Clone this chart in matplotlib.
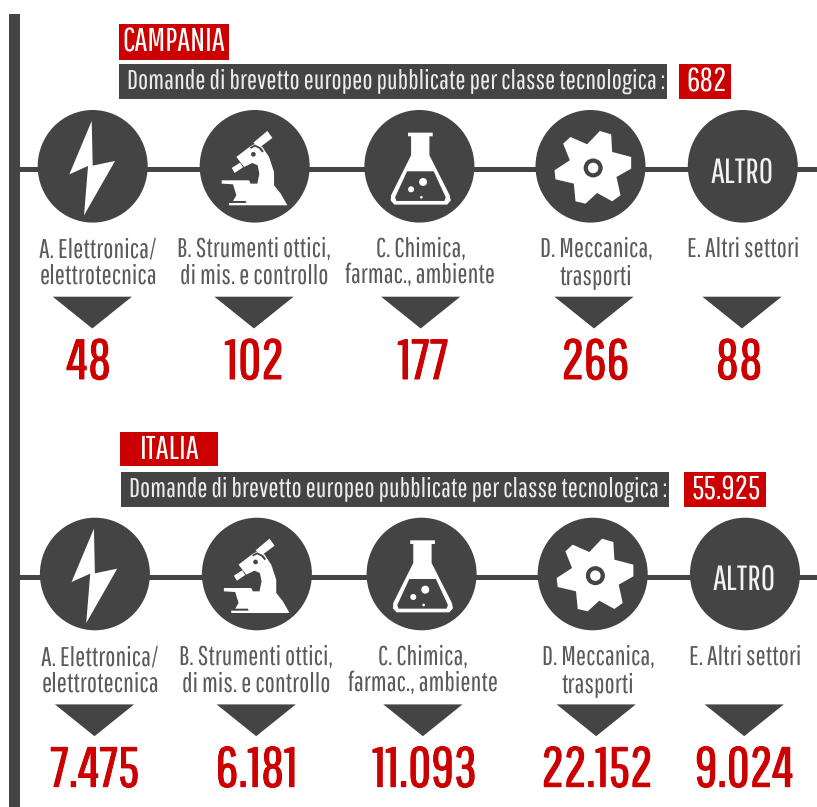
import matplotlib
matplotlib.use('Agg')
import matplotlib.pyplot as plt
from matplotlib.patches import Ellipse, Polygon, Rectangle
import matplotlib.patheffects as pe

plt.rcParams['text.hinting'] = 'no_hinting'
plt.rcParams['text.hinting_factor'] = 1

regions = ['CAMPANIA', 'ITALIA']
subtitle = 'Domande di brevetto europeo pubblicate per classe tecnologica :'
totals = [682, 55925]
categories = [['A. Elettronica/', 'elettrotecnica'],
              ['B. Strumenti ottici,', 'di mis. e controllo'],
              ['C. Chimica,', 'farmac., ambiente'],
              ['D. Meccanica,', 'trasporti'],
              ['E. Altri settori']]
campania_values = [48, 102, 177, 266, 88]
italia_values = [7475, 6181, 11093, 22152, 9024]

DARK = '#444444'
RED = '#cc0000'
FONT = 'Pathway Gothic One'

fig = plt.figure(figsize=(8.17, 8.07), dpi=100)
ax = fig.add_axes([0, 0, 1, 1])
ax.set_xlim(0, 817)
ax.set_ylim(807, 0)
ax.axis('off')


def fmt(v):
    return f'{v:,}'.replace(',', '.')


def rect(x0, x1, y0, y1, color, z=1):
    ax.add_patch(Rectangle((x0, y0), x1 - x0, y1 - y0, fc=color, ec='none', zorder=z))


def bolt(cx, cy):
    pts = [(275, 362), (208, 522), (264, 497), (252, 645), (345, 482), (278, 496)]
    ax.add_patch(Polygon([(cx + (x - 278) / 3, cy + (y - 498) / 3) for x, y in pts],
                         fc='white', ec='none', zorder=4))


def shape(pts, cx, cy, color='white', z=4):
    ax.add_patch(Polygon([(cx + (x - 147) / 3, cy + (y - 153) / 3) for x, y in pts],
                         fc=color, ec='none', zorder=z))


def dot(x, y, r, cx, cy, color='white', z=6):
    ax.add_patch(Ellipse((cx + (x - 147) / 3, cy + (y - 153) / 3), 2 * r / 3, 2 * r / 3,
                         fc=color, ec='none', zorder=z))


def microscope(cx, cy):
    shape([(92, 125), (135, 92), (150, 85), (170, 95), (190, 125), (205, 170), (205, 210),
           (225, 235), (245, 270), (70, 270), (70, 263), (122, 263), (120, 257), (82, 257),
           (92, 240), (82, 207), (48, 205), (48, 195), (130, 195), (135, 205), (155, 205),
           (161, 175), (156, 150), (140, 143), (115, 155)], cx, cy)
    shape([(143, 82), (185, 47), (200, 68), (160, 98)], cx, cy)
    shape([(78, 158), (103, 142), (112, 156), (87, 173)], cx, cy)
    shape([(132, 96), (148, 88), (166, 97), (174, 108), (170, 112), (160, 100), (148, 94), (136, 100)],
          cx, cy, DARK, 5)
    dot(143, 117, 7, cx, cy, DARK)


def flask(cx, cy):
    shape([(113, 52), (187, 52), (187, 63), (177, 63), (177, 120), (238, 240), (241, 256),
           (230, 268), (72, 268), (61, 256), (62, 240), (122, 120), (122, 63), (113, 63)], cx, cy)
    shape([(110, 168), (190, 168), (226, 246), (222, 257), (78, 257), (74, 246)], cx, cy, DARK, 5)
    dot(158, 200, 12, cx, cy)
    dot(122, 222, 9, cx, cy)
    dot(153, 246, 4, cx, cy)


def gear(cx, cy):
    pts = [(510, 410), (560, 432), (598, 392), (632, 402), (635, 455), (692, 470), (692, 505),
           (648, 530), (660, 585), (635, 603), (590, 578), (555, 610), (525, 603), (520, 550),
           (465, 537), (462, 510), (508, 480), (488, 430)]
    ax.add_patch(Polygon([(cx + (x - 570) / 3, cy + (y - 498) / 3) for x, y in pts],
                         fc='white', ec='none', zorder=4))
    ax.add_patch(Ellipse((cx + 8 / 3, cy + 5 / 3), 19, 19, fc=DARK, ec='none', zorder=5))
    ax.add_patch(Ellipse((cx + 8 / 3, cy + 5 / 3), 10.5, 10.5, fc='white', ec='none', zorder=6))


def label(x, y, s, size, color, ha='center', bold=False):
    t = ax.text(x, y, s, family=FONT, fontsize=size, color=color, ha=ha, va='baseline', zorder=7)
    if bold:
        t.set_path_effects([pe.withStroke(linewidth=bold, foreground=color)])
    return t


rect(9, 20, 14, 807, DARK)

SEC = [
    dict(dx=0, dy=0, title=(119, 228.7, 24, 60.3), title_x=174.3, title_y=51.7,
         bar=(119, 667.3, 64.3, 99.3), sub_x=127.5, sub_y=90,
         tot=(679.3, 731), tot_x=706.5, tot_y=91.5),
    dict(dx=2.2, dy=407.7, title=(120, 218, 432, 465.7), title_x=169.7, title_y=459.3,
         bar=(121, 669.3, 472, 507), sub_x=129.5, sub_y=497.7,
         tot=(683.7, 766), tot_x=726, tot_y=499.5),
]
cxs = [92.7, 254.7, 419.4, 590.5, 742.8]
tri_x = [92.3, 254, 420.7, 594, 742]
lab_x = [98, 254, 420.5, 596, 742.8]
num_x = [[88.8, 254.2, 423, 595.3, 739], [94.5, 256.5, 424.5, 596.7, 744]]

for k, (name, total, values, s) in enumerate(zip(regions, totals, [campania_values, italia_values], SEC)):
    dx, dy = s['dx'], s['dy']
    rect(*s['title'], RED)
    label(s['title_x'], s['title_y'], name, 24, 'white')
    rect(*s['bar'], DARK)
    label(s['sub_x'], s['sub_y'], subtitle, 19.2, '#ececec', ha='left')
    rect(s['tot'][0], s['tot'][1], s['bar'][2], s['bar'][3], RED)
    label(s['tot_x'], s['tot_y'], fmt(total), 23.5, 'white')

    rect(20, 817, 167 + dy, 172 + dy, DARK)
    for i, (cat, v) in enumerate(zip(categories, values)):
        cx = cxs[i] + dx
        cy = 166.3 + dy
        ax.add_patch(Ellipse((cx, cy), 110, 112.6, fc=DARK, ec='none', zorder=3))
        [bolt, microscope, flask, gear, lambda a, b: None][i](cx, cy)
        if i == 4:
            label(cx - 0.5, 182 + dy, 'ALTRO', 25, '#f2f2f2')
        base = 258 + dy
        for j, line in enumerate(cat):
            yy = base + j * (25 if i == 2 else 27)
            label(lab_x[i] + dx, yy, line, 19.2, '#5a5a5a')
        tx = tri_x[i] + dx
        ax.add_patch(Polygon([(tx - 39.6, 296.7 + dy), (tx + 39.6, 296.7 + dy), (tx, 328.5 + dy)],
                             fc=DARK, ec='none', zorder=3))
        label(num_x[k][i], 379 + dy, fmt(v), 40.5, RED, bold=0.7)

fig.savefig('out.png', dpi=100, facecolor='white')
